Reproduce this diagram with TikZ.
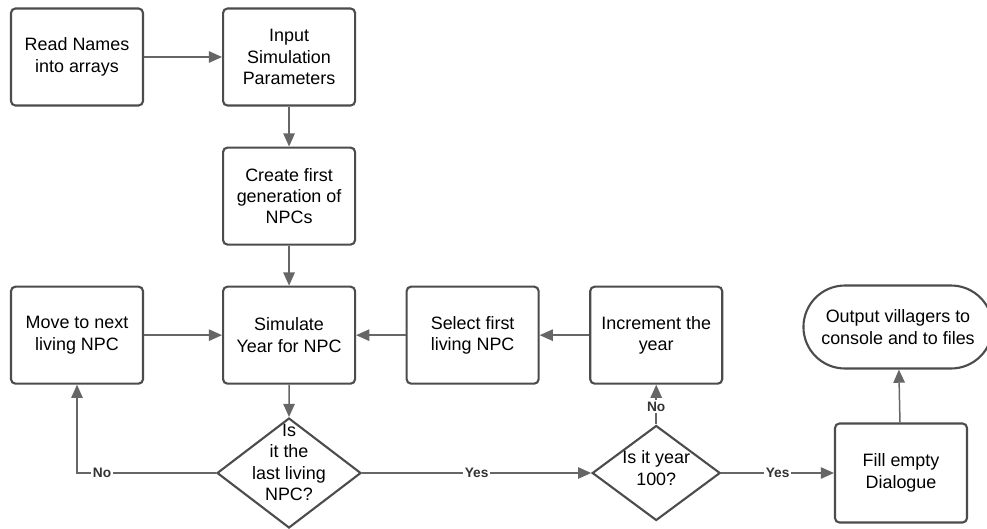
\documentclass[tikz,border=0pt]{standalone}
\usepackage{fontspec}
\setmainfont{Liberation Sans}
\usetikzlibrary{shapes.geometric,shapes.misc,arrows.meta,positioning}
\definecolor{edge}{gray}{0.30}
\definecolor{wire}{gray}{0.40}
% text in a diamond, kept out of the shape size
\newcommand{\qtext}[2]{\makebox[0pt]{\raisebox{#1}[0pt][0pt]{\begin{tabular}{@{}c@{}}#2\end{tabular}}}}

\begin{document}
\begin{tikzpicture}[
	x=0.02cm, y=-0.02cm,
	node distance = 0.8cm and 1.56cm,
	font=\fontsize{10.2}{12.2}\selectfont,
	procbox/.style={draw=edge, line width=1.2pt, rounded corners=2.5pt,
		minimum width=2.64cm, minimum height=1.94cm, align=center, inner sep=2pt},
	question/.style={diamond, draw=edge, line width=1.2pt, inner sep=0pt},
	terminal/.style={rounded rectangle, draw=edge, line width=1.2pt,
		minimum width=3.56cm, minimum height=1.66cm, align=center, inner xsep=8pt},
	flow/.style={draw=wire, line width=0.85pt, -{Triangle[length=7.5pt, width=6.5pt]}},
	answer/.style={font=\fontsize{7.8}{8}\selectfont\bfseries, text=black!80, fill=white, inner sep=1pt},
	]
	\useasboundingbox[fill=white] (0,0) rectangle (987,528);
	
	\node [procbox] (readnames) at (77,57) {Read Names\\into arrays};
	\node [procbox, right=of readnames] (params) {Input\\Simulation\\Parameters};
	\node [procbox, below=of params] (firstgen) {Create first\\generation of\\NPCs};
	\node [procbox, below=of firstgen] (simyear) {Simulate\\Year for NPC};
	\node [procbox, left=of simyear] (movenext) {Move to next\\living NPC};
	\node [procbox, right=0.99cm of simyear] (selectfirst) {Select first\\living NPC};
	\node [procbox, right=0.99cm of selectfirst] (incyear) {Increment the\\year};
	
	\node [question, minimum width=2.88cm, minimum height=2.2cm] (lastnpc) at (289,473)
		{\qtext{2.5pt}{Is\\it the\\last living\\NPC?}};
	\node [question, minimum width=2.56cm, minimum height=1.9cm] (yearhundred) at (incyear |- lastnpc)
		{\qtext{-1pt}{Is it year\\100?}};
	\node [procbox, minimum height=1.98cm] (filldlg) at (901,473) {Fill empty\\Dialogue};
	\node [terminal] (output) at (898,327) {Output villagers to\\console and to files};
	
	\draw [flow] (readnames) -- (params);
	\draw [flow] (params) -- (firstgen);
	\draw [flow] (firstgen) -- (simyear);
	\draw [flow] (movenext) -- (simyear);
	\draw [flow] (selectfirst) -- (simyear);
	\draw [flow] (incyear) -- (selectfirst);
	\draw [flow] (simyear) -- (lastnpc);
	\draw [flow] (lastnpc.west) -- node[answer, pos=0.82] {No} (movenext.south |- lastnpc.west) -- (movenext.south);
	\draw [flow] (lastnpc.east) -- node[answer] {Yes} (yearhundred.west);
	\draw [flow] (yearhundred.north) -- node[answer, pos=0.45] {No} (incyear.south);
	\draw [flow] (yearhundred.east) -- node[answer] {Yes} (filldlg.west);
	\draw [flow] (filldlg) -- (output);
\end{tikzpicture}
\end{document}
